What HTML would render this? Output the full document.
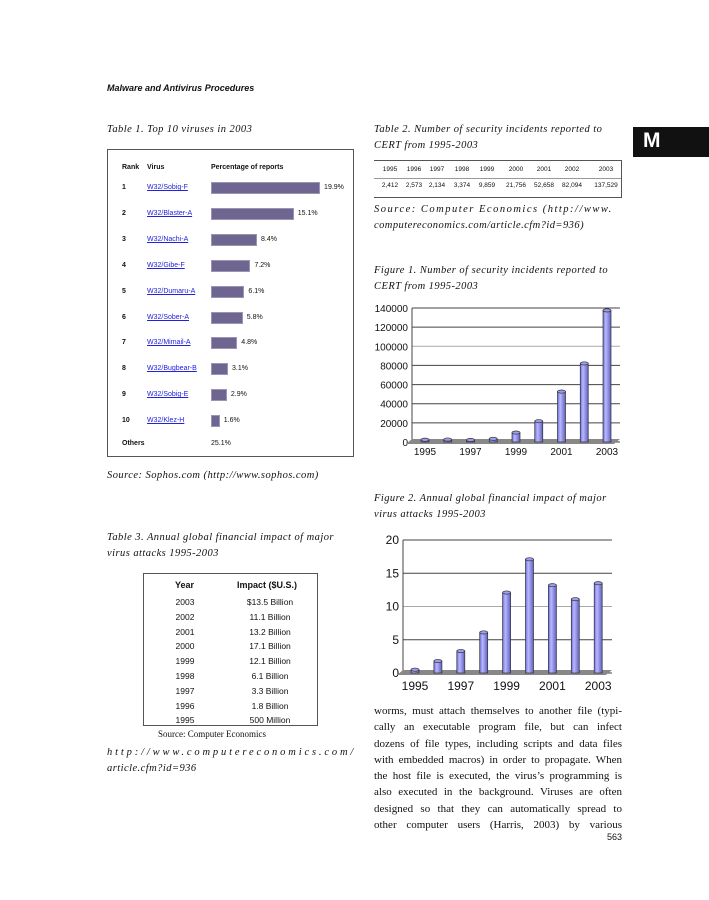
<!DOCTYPE html>
<html><head><meta charset="utf-8">
<style>
body{margin:0;background:#fff;}
#page{position:relative;width:709px;height:900px;overflow:hidden;background:#fff;font-family:"Liberation Sans",sans-serif;color:#111;}
.a{position:absolute;white-space:nowrap;}
.cap{font-family:"Liberation Serif",serif;font-style:italic;font-size:10.5px;letter-spacing:0.45px;line-height:16px;}
.t1{font-size:7px;}
.lnk{color:#2222dd;text-decoration:underline;}
.bar{position:absolute;height:12px;background:#6e6690;border:1px solid #9b95b5;box-sizing:border-box;}
.bl{font-family:"Liberation Serif",serif;font-size:11px;width:248px;height:16.3px;line-height:16.3px;text-align:justify;text-align-last:justify;white-space:normal;}
.t3{font-size:8.5px;}
</style></head><body>
<div id="page">
<div class="a" style="left:107px;top:83px;font-size:9px;font-weight:bold;font-style:italic;">Malware and Antivirus Procedures</div>

<div class="a cap" style="left:107px;top:122px;">Table 1. Top 10 viruses in 2003</div>
<div class="a" style="left:107px;top:149px;width:247px;height:308px;border:1px solid #555;box-sizing:border-box;"></div>
<div id="t1"></div>
<div class="a cap" style="left:107px;top:468px;">Source: Sophos.com (http://www.sophos.com)</div>

<div class="a cap" style="left:374px;top:122px;">Table 2. Number of security incidents reported to<br>CERT from 1995-2003</div>
<div class="a" style="left:633px;top:127px;width:76px;height:30px;background:#111;"><span style="position:absolute;left:10px;top:2px;color:#fff;font-weight:bold;font-size:21px;">M</span></div>
<div class="a" style="left:374px;top:160px;width:248px;height:38px;border-top:1px solid #555;border-bottom:1px solid #555;border-right:1px solid #555;box-sizing:border-box;"><div style="position:absolute;left:0;top:17px;width:100%;border-top:1px solid #999;"></div></div>
<div id="t2"></div>
<div class="a cap" style="left:374px;top:202px;letter-spacing:1.5px;">Source: Computer Economics (http://www.</div>
<div class="a cap" style="left:374px;top:218px;">computereconomics.com/article.cfm?id=936)</div>

<div class="a cap" style="left:374px;top:263px;">Figure 1. Number of security incidents reported to<br>CERT from 1995-2003</div>
<svg class="a" id="fig1" style="left:0;top:0;" width="709" height="900"></svg>

<div class="a cap" style="left:374px;top:491px;">Figure 2. Annual global financial impact of major<br>virus attacks 1995-2003</div>

<div class="a cap" style="left:107px;top:530px;">Table 3. Annual global financial impact of major<br>virus attacks 1995-2003</div>
<div class="a" style="left:143px;top:573px;width:175px;height:153px;border:1px solid #555;box-sizing:border-box;"></div>
<div id="t3"></div>
<div class="a" style="left:158px;top:729px;font-family:'Liberation Serif',serif;font-size:9px;">Source: Computer Economics</div>
<div class="a cap" style="left:107px;top:745px;letter-spacing:2.85px;">http://www.computereconomics.com/</div>
<div class="a cap" style="left:107px;top:761px;">article.cfm?id=936</div>

<div class="a" style="left:374px;top:703px;">
<div class="bl">worms, must attach themselves to another file (typi-</div>
<div class="bl">cally an executable program file, but can infect</div>
<div class="bl">dozens of file types, including scripts and data files</div>
<div class="bl">with embedded macros) in order to propagate. When</div>
<div class="bl">the host file is executed, the virus’s programming is</div>
<div class="bl">also executed in the background. Viruses are often</div>
<div class="bl">designed so that they can automatically spread to</div>
<div class="bl">other computer users (Harris, 2003) by various</div>
</div>
<div class="a" style="left:607px;top:832px;font-size:9px;">563</div>
</div>

<script>
// Table 1 data
const t1Names=["W32/Sobig-F","W32/Blaster-A","W32/Nachi-A","W32/Gibe-F","W32/Dumaru-A","W32/Sober-A","W32/Mimail-A","W32/Bugbear-B","W32/Sobig-E","W32/Klez-H"];
const t1Pct=[19.9,15.1,8.4,7.2,6.1,5.8,4.8,3.1,2.9,1.6];
const t1Others="25.1%";
// Table 2 data
const t2Years=["1995","1996","1997","1998","1999","2000","2001","2002","2003"];
const t2Vals=["2,412","2,573","2,134","3,374","9,859","21,756","52,658","82,094","137,529"];
// Figure 1 data
const f1Years=[1995,1996,1997,1998,1999,2000,2001,2002,2003];
const f1Vals=[2412,2573,2134,3374,9859,21756,52658,82094,137529];
const f1Ticks=[0,20000,40000,60000,80000,100000,120000,140000];
const f1XLabels=["1995","1997","1999","2001","2003"];
// Figure 2 data
const f2Years=[1995,1996,1997,1998,1999,2000,2001,2002,2003];
const f2Vals=[0.5,1.8,3.3,6.1,12.1,17.1,13.2,11.1,13.5];
const f2Ticks=[0,5,10,15,20];
const f2XLabels=["1995","1997","1999","2001","2003"];
// Table 3 data
const t3Years=["2003","2002","2001","2000","1999","1998","1997","1996","1995"];
const t3Impact=["$13.5 Billion","11.1 Billion","13.2 Billion","17.1 Billion","12.1 Billion","6.1 Billion","3.3 Billion","1.8 Billion","500 Million"];

const page=document.getElementById('page');
function div(cls,l,t,txt,st){const d=document.createElement('div');d.className='a '+cls;d.style.left=l+'px';d.style.top=t+'px';if(st)d.style.cssText+=st;d.textContent=txt;page.appendChild(d);return d;}

// Table 1
let h;
h=div('t1',122,164,'Rank','font-weight:bold;');


h=div('t1',147,164,'Virus','font-weight:bold;');


h=div('t1',211,164,'Percentage of reports','font-weight:bold;');


const pxPer=5.48;
t1Names.forEach((n,i)=>{
  const y=188+i*25.9;
  let r=div('t1',122,y-4,String(i+1),'font-weight:bold;');
  
  
  let v=div('t1 lnk',147,y-4,n);
  
  
  const w=t1Pct[i]*pxPer;
  const b=document.createElement('div');b.className='bar';b.style.left='211px';b.style.top=(y-6)+'px';b.style.width=w+'px';page.appendChild(b);
  
  
  let p=div('t1',211+w+4,y-4,t1Pct[i].toFixed(1)+'%');
  
  
});
h=div('t1',122,440,'Others','font-weight:bold;');


h=div('t1',211,440,t1Others);



// Table 2
const t2x=[390,414,437,462,487,516,544,572,606];
t2Years.forEach((y,i)=>{
  let a=div('t1',t2x[i]-20,166,y,'font-size:6.5px;width:40px;text-align:center;');
  
  
  let b=div('t1',t2x[i]-20,182,t2Vals[i],'font-size:6.5px;width:40px;text-align:center;');
  
  
});

// Table 3
h=div('t3',175,580,'Year','font-weight:bold;font-size:9px;');


h=div('t3',237,580,'Impact ($U.S.)','font-weight:bold;font-size:9px;');


t3Years.forEach((y,i)=>{
  const ty=597+i*14.8;
  let a=div('t3',160,ty,y,'width:50px;text-align:center;');
  
  
  let b=div('t3',230,ty,t3Impact[i],'width:80px;text-align:center;');
  
  
});

// Charts
const svg=document.getElementById('fig1');
const NS='http://www.w3.org/2000/svg';
const defs=document.createElementNS(NS,'defs');
defs.innerHTML='<linearGradient id="cyl" x1="0" x2="1"><stop offset="0" stop-color="#7070d8"/><stop offset="0.35" stop-color="#b8b8ff"/><stop offset="1" stop-color="#6060c0"/></linearGradient>';
svg.appendChild(defs);
function el(tag,attrs,parent){const e=document.createElementNS(NS,tag);for(const k in attrs)e.setAttribute(k,attrs[k]);(parent||svg).appendChild(e);return e;}

function chart(cfg,years,vals,ticks,xl,prefix){
  const g=el('g',{});
  
  
  const yS=v=>cfg.y0-(v-cfg.min)/(cfg.max-cfg.min)*(cfg.y0-cfg.y1);
  const xS=yr=>cfg.xa+(yr-years[0])*cfg.step;
  ticks.forEach(t=>{
    const y=yS(t);
    const gl=el('line',{x1:cfg.left,x2:cfg.right,y1:y,y2:y,stroke:(t===ticks[ticks.length-3]?'#aaa':'#444'),'stroke-width':1},g);
    
    
    const tx=el('text',{x:cfg.left-4,y:y+4,'text-anchor':'end','font-size':cfg.fs,'font-family':'Liberation Sans, sans-serif',fill:'#111'},g);
    tx.textContent=String(t);
    
    
  });
  const ax=el('line',{x1:cfg.left,x2:cfg.left,y1:yS(ticks[ticks.length-1]),y2:cfg.y0,stroke:'#444'},g);
  
  
  const fl=el('polygon',{points:`${cfg.left-6},${cfg.y0+2} ${cfg.right-6},${cfg.y0+2} ${cfg.right},${cfg.y0-3} ${cfg.left},${cfg.y0-3}`,fill:'#888'},g);
  
  
  const bw=cfg.bw;
  years.forEach((yr,i)=>{
    const cx=xS(yr),top=yS(vals[i]);
    const r=el('rect',{x:cx-bw/2,y:top,width:bw,height:cfg.y0-top,fill:'url(#cyl)',stroke:'#333','stroke-width':0.7},g);
    
    
    const e=el('ellipse',{cx:cx,cy:top,rx:bw/2,ry:1.6,fill:'#9c9cf0',stroke:'#333','stroke-width':0.7},g);
    
    
  });
  xl.forEach(l=>{
    const t=el('text',{x:xS(+l),y:cfg.y0+cfg.xly,'text-anchor':'middle','font-size':cfg.fs,'font-family':'Liberation Sans, sans-serif',fill:'#111'},g);
    t.textContent=l;
    
    
  });
}
chart({left:412,right:620,y0:442,y1:308,min:0,max:140000,xa:425,step:22.75,bw:8,fs:10,xly:13},f1Years,f1Vals,f1Ticks,f1XLabels,'figure1');
chart({left:403,right:612,y0:673,y1:540,min:0,max:20,xa:415,step:22.9,bw:8,fs:12,xly:17},f2Years,f2Vals,f2Ticks,f2XLabels,'figure2');
</script>
</body></html>
